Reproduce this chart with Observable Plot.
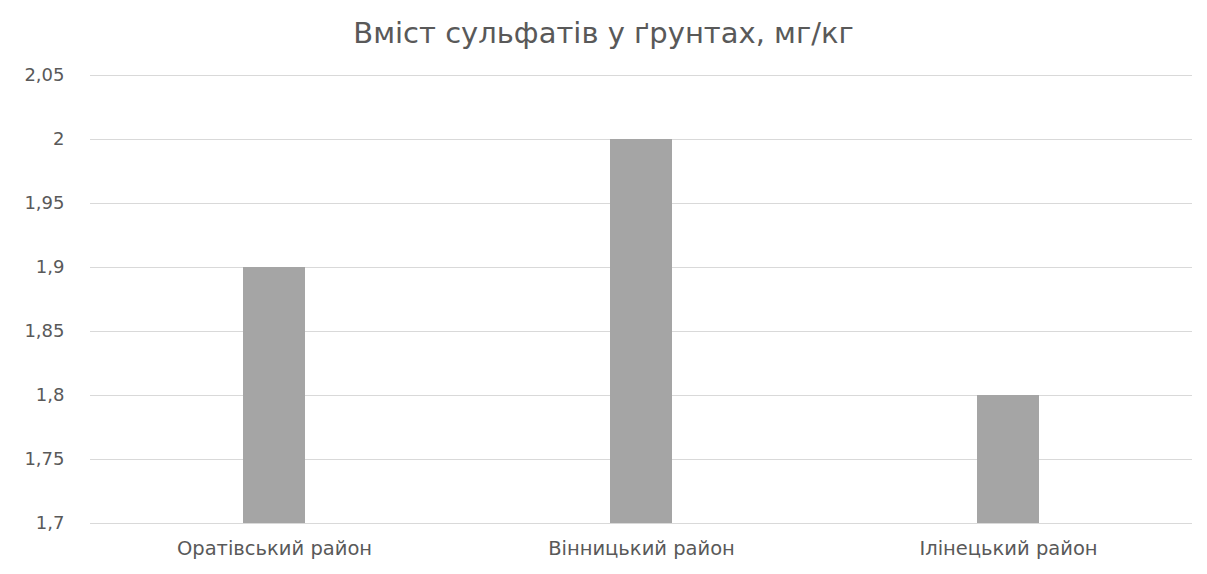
<!DOCTYPE html>
<html>
<head>
<meta charset="utf-8">
<script src="https://cdn.jsdelivr.net/npm/d3@7"></script>
<script src="https://cdn.jsdelivr.net/npm/@observablehq/plot@0.6"></script>
<style>
  html, body { margin: 0; padding: 0; background: #fff; }
  #title {
    height: 60px; line-height: 66px; text-align: center;
    font-family: "DejaVu Sans", sans-serif; font-size: 29px; color: #595959;
  }
</style>
</head>
<body>
<div id="title">Вміст сульфатів у ґрунтах, мг/кг</div>
<div id="chart"></div>
<script>
// Sulfate content by district, mg/kg
const districts = ["Оратівський район", "Вінницький район", "Ілінецький район"];
const sulfates = [1.9, 2.0, 1.8];
const yTicks = [1.7, 1.75, 1.8, 1.85, 1.9, 1.95, 2.0, 2.05];
const yTickLabels = ["1,7", "1,75", "1,8", "1,85", "1,9", "1,95", "2", "2,05"];

const rows = districts.map((d, i) => ({district: d, value: sulfates[i]}));
const baseline = yTicks[0];

const chart = Plot.plot({
  width: 1207,
  height: 514,
  marginTop: 15,
  marginBottom: 51,
  marginLeft: 90,
  marginRight: 15,
  style: {fontFamily: "DejaVu Sans, sans-serif", fontSize: "18px", color: "#595959", background: "#fff"},
  x: {domain: districts, paddingInner: 0.831, paddingOuter: 0.4155, label: null},
  y: {domain: [baseline, yTicks[yTicks.length - 1]], label: null},
  marks: [
    Plot.gridY(yTicks, {stroke: "#d9d9d9", strokeOpacity: 1, strokeWidth: 1}),
    Plot.barY(rows, {x: "district", y1: baseline, y2: "value", fill: "#a5a5a5"}),
    Plot.axisY(yTicks, {
      tickSize: 0, tickPadding: 26, label: null,
      tickFormat: (d) => yTickLabels[yTicks.indexOf(d)]
    }),
    Plot.axisX({tickSize: 0, tickPadding: 18, label: null, fontSize: 19.5})
  ]
});
document.getElementById("chart").appendChild(chart);
</script>
</body>
</html>
